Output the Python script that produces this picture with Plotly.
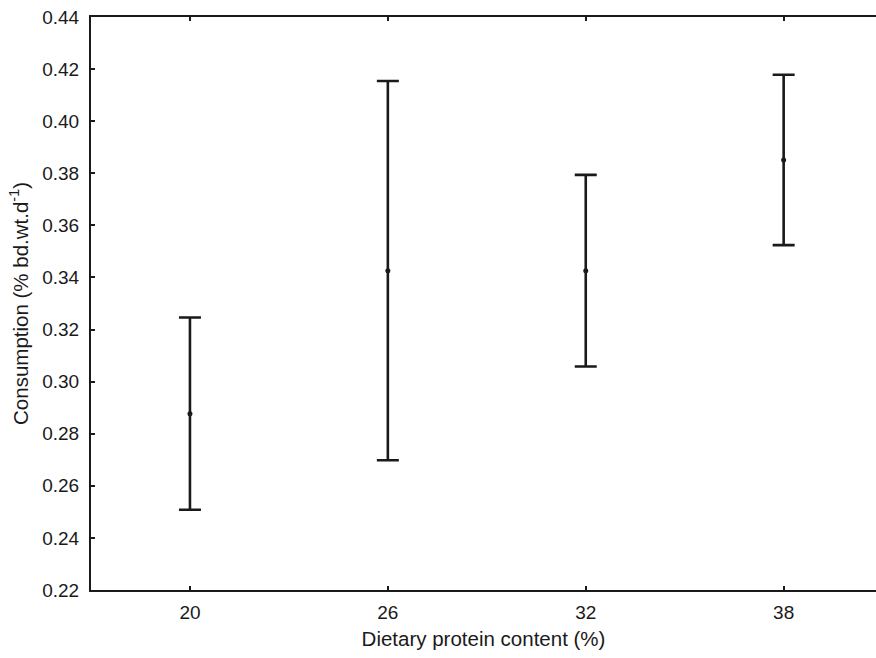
import plotly.graph_objects as go

# Dietary protein levels (%) and mean consumption with error half-widths
protein = [20, 26, 32, 38]
consumption_mean = [0.2877, 0.3426, 0.3426, 0.3851]
consumption_err = [0.0369, 0.0728, 0.0368, 0.0327]

y_ticks = [0.22, 0.24, 0.26, 0.28, 0.30, 0.32, 0.34, 0.36, 0.38, 0.40, 0.42, 0.44]

font_family = "Liberation Sans, Arial, sans-serif"
ink = "#1a1a1a"

fig = go.Figure()
fig.add_trace(go.Scatter(
    x=protein,
    y=consumption_mean,
    mode="markers",
    marker=dict(color=ink, size=5),
    error_y=dict(type="data", array=consumption_err, visible=True,
                 color=ink, thickness=2.6, width=11),
    showlegend=False,
))

fig.update_layout(
    width=876, height=658,
    margin=dict(l=91, r=0, t=17, b=68),
    paper_bgcolor="white",
    plot_bgcolor="white",
    font=dict(family=font_family, size=19, color=ink),
    xaxis=dict(
        range=[17, 40.8],
        tickvals=protein,
        ticktext=[str(p) for p in protein],
        showgrid=False, zeroline=False,
        showline=True, linecolor=ink, linewidth=2,
        mirror="ticks",
        ticks="inside", ticklen=4, tickwidth=1.5, tickcolor=ink,
        ticklabelstandoff=4,
        tickfont=dict(size=19),
        title=dict(text="Dietary protein content (%)", font=dict(size=20.5), standoff=10),
    ),
    yaxis=dict(
        range=[0.22, 0.44],
        tickvals=y_ticks,
        ticktext=[f"{v:.2f}" for v in y_ticks],
        showgrid=False, zeroline=False,
        showline=True, linecolor=ink, linewidth=2,
        mirror=False,
        ticks="inside", ticklen=4, tickwidth=1.5, tickcolor=ink,
        ticklabelstandoff=6,
        tickfont=dict(size=19),
        title=dict(text="Consumption (% bd.wt.d<sup>-1</sup>)", font=dict(size=20.5), standoff=8),
    ),
)

fig.write_html("out.html")
